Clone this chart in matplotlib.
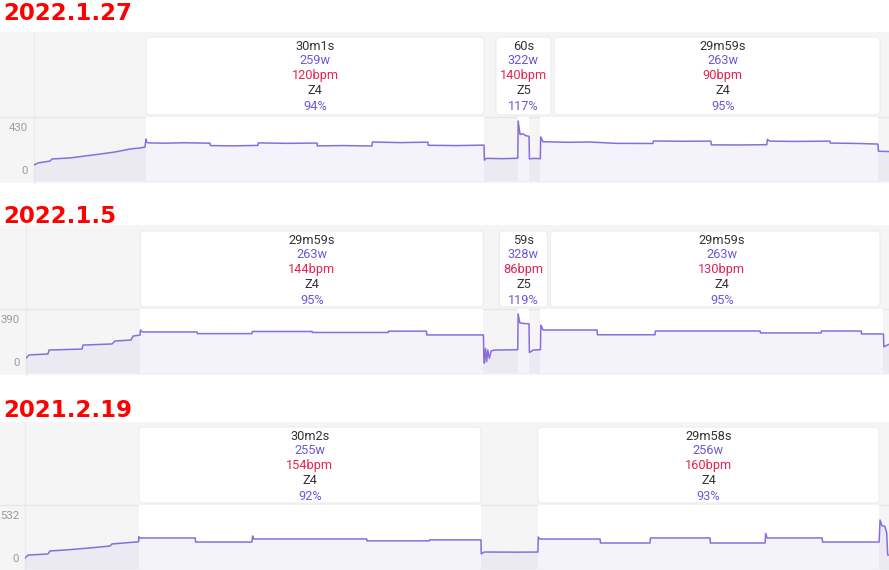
import matplotlib
matplotlib.use("Agg")
import matplotlib.pyplot as plt
from matplotlib.patches import FancyBboxPatch, Rectangle

# ---- data ----
titles = ["2022.1.27", "2022.1.5", "2021.2.19"]
y_max = [430, 390, 532]

# time (s) / power (W) traces
p1_t = [0, 21, 85, 96, 192, 272, 352, 432, 485, 511, 565, 591,
        597, 600, 610, 700, 800, 938, 940, 1050, 1193, 1195, 1350, 1508, 1510, 1650, 1801, 1803, 1950, 2099, 2101, 2250, 2398,
        2400, 2410, 2500, 2578,
        2580, 2590, 2605, 2620, 2638,
        2640, 2660, 2698,
        2700, 2712, 2850, 2962, 3100, 3298, 3300, 3450, 3607, 3609, 3750, 3905, 3908, 3920, 4050, 4241, 4243, 4400, 4497,
        4500, 4556]
p1_w = [107, 121, 134, 148, 155, 168, 181, 195, 208, 215, 222, 228,
        282, 262, 256, 254, 257, 254, 238, 236, 239, 256, 253, 255, 236, 238, 235, 262, 258, 261, 240, 238, 241,
        140, 152, 150, 153,
        403, 312, 318, 305, 300,
        148, 152, 150,
        296, 264, 260, 262, 253, 252, 269, 267, 268, 243, 242, 244, 280, 268, 266, 268, 255, 252, 248,
        200, 198]

p2_t = [0, 16, 115, 121, 294, 299, 451, 467, 551, 561, 598,
        600, 610, 897, 899, 1185, 1187, 1500, 1502, 1900, 1902, 2100, 2102, 2399,
        2401, 2404, 2410, 2416, 2422, 2430, 2440, 2460, 2579,
        2581, 2590, 2610, 2638,
        2640, 2660, 2698,
        2700, 2712, 2995, 2997, 3299, 3301, 3850, 3852, 4170, 4172, 4380, 4382, 4497,
        4499, 4526]
p2_w = [91, 110, 116, 140, 146, 170, 177, 195, 201, 225, 231,
        262, 250, 250, 240, 240, 253, 253, 247, 247, 255, 255, 232, 232,
        95, 60, 150, 70, 140, 90, 135, 140, 142,
        360, 305, 302, 300,
        125, 140, 142,
        292, 262, 262, 233, 233, 256, 256, 244, 244, 256, 256, 238, 238,
        160, 175]

p3_t = [0, 16, 121, 132, 211, 342, 448, 458, 580, 598,
        600, 605, 897, 899, 1196, 1199, 1205, 1800, 1802, 2130, 2132, 2402,
        2404, 2420, 2600, 2702,
        2704, 2712, 3030, 3032, 3293, 3295, 3609, 3611, 3899, 3902, 3910, 4200, 4202, 4500,
        4505, 4515, 4530, 4540, 4545, 4552]
p3_w = [91, 116, 125, 150, 158, 175, 191, 208, 224, 226,
        268, 258, 258, 224, 224, 275, 250, 250, 234, 234, 242, 242,
        125, 141, 140, 141,
        266, 249, 249, 216, 216, 258, 258, 216, 216, 295, 258, 258, 224, 224,
        407, 360, 355, 300, 116, 116]

# interval start / end (s)
p1_iv = [(597, 2398), (2578, 2638), (2698, 4497)]
p2_iv = [(600, 2399), (2579, 2638), (2698, 4497)]
p3_iv = [(600, 2402), (2702, 4500)]

p1_labels = [["30m1s", "259w", "120bpm", "Z4", "94%"],
             ["60s", "322w", "140bpm", "Z5", "117%"],
             ["29m59s", "263w", "90bpm", "Z4", "95%"]]
p2_labels = [["29m59s", "263w", "144bpm", "Z4", "95%"],
             ["59s", "328w", "86bpm", "Z5", "119%"],
             ["29m59s", "263w", "130bpm", "Z4", "95%"]]
p3_labels = [["30m2s", "255w", "154bpm", "Z4", "92%"],
             ["29m58s", "256w", "160bpm", "Z4", "93%"]]

traces = [(p1_t, p1_w), (p2_t, p2_w), (p3_t, p3_w)]
intervals = [p1_iv, p2_iv, p3_iv]
labels = [p1_labels, p2_labels, p3_labels]

# ---- layout (pixels) ----
W_PX, H_PX = 889, 570
# gray_top, box_top, plot_top, plot_bot, gray_bot, axis_x, t_right, title_baseline
layout = [
    (32, 37, 117, 181, 183, 34, 4556, 20),
    (225, 231, 309, 373, 375, 26, 4526, 223),
    (422, 427, 505, 569, 570, 25, 4552, 417),
]

BG = "#f5f5f5"
GRID = "#e6e6e6"
LINE = "#8a6ddc"
TXT_COLORS = ["#333333", "#6a5ad8", "#e62350", "#333333", "#6a5ad8"]
TICK = "#9a9a9a"
FONT = ["Roboto", "DejaVu Sans"]
LAB_SIZE = 9.2

fig = plt.figure(figsize=(W_PX / 100, H_PX / 100), dpi=100)
fig.patch.set_facecolor("white")
ov = fig.add_axes([0, 0, 1, 1])
ov.set_xlim(0, W_PX)
ov.set_ylim(H_PX, 0)
ov.axis("off")
ov.set_zorder(0)

renderer = fig.canvas.get_renderer()

for i in range(3):
    g_top, b_top, p_top, p_bot, g_bot, ax_x, t_right, title_y = layout[i]
    t, w = traces[i]

    # title
    ov.text(3, title_y, titles[i], color="#ff0000", fontsize=16.5, fontweight="bold",
            family="DejaVu Sans", ha="left", va="baseline")

    # gray panel + separators
    ov.add_patch(Rectangle((0, g_top), W_PX, g_bot - g_top, facecolor=BG, edgecolor="none"))
    ov.plot([0, W_PX], [p_top, p_top], color=GRID, lw=1)
    ov.plot([ax_x, ax_x], [g_top, g_bot], color="#ebebeb", lw=1)

    # plot area
    ax = fig.add_axes([ax_x / W_PX, 1 - p_bot / H_PX, (W_PX - ax_x) / W_PX, (p_bot - p_top) / H_PX])
    ax.set_zorder(1)
    ax.patch.set_visible(False)
    ax.set_xlim(0, t_right)
    ax.set_ylim(0, y_max[i])
    ax.axis("off")
    for s, e in intervals[i]:
        ax.axvspan(s, e, color="white", zorder=0, lw=0)
    ax.fill_between(t, w, 0, color="#7b5fd0", alpha=0.08, lw=0, zorder=1)
    ax.plot(t, w, color=LINE, lw=1.1, zorder=2)

    # y tick labels
    ax.annotate(str(y_max[i]), xy=(0, y_max[i]), xycoords=("axes fraction", "data"),
                xytext=(-6, -11), textcoords="offset pixels", ha="right", va="center",
                fontsize=8.2, color=TICK, family=FONT, annotation_clip=False)
    ax.annotate("0", xy=(0, 0), xycoords=("axes fraction", "data"),
                xytext=(-6, 10), textcoords="offset pixels", ha="right", va="center",
                fontsize=8.2, color=TICK, family=FONT, annotation_clip=False)

    # interval label boxes
    prev_right = -1e9
    for (s, e), lab in zip(intervals[i], labels[i]):
        x0 = ax.transData.transform((s, 0))[0]
        x1 = ax.transData.transform((e, 0))[0]
        txts = [ov.text(0, 0, l, fontsize=LAB_SIZE, family=FONT) for l in lab]
        tw = max(tt.get_window_extent(renderer).width for tt in txts)
        for tt in txts:
            tt.remove()
        bw = max(x1 - x0, tw + 8)
        left = (x0 + x1) / 2 - bw / 2
        if left < prev_right + 3:
            left = prev_right + 3
        right = left + bw
        prev_right = right
        vis_right = min(right, 880)
        ov.add_patch(FancyBboxPatch((left, b_top), vis_right - left, p_top - 2 - b_top,
                                    boxstyle="round,pad=0,rounding_size=4",
                                    facecolor="white", edgecolor="#ececec", lw=0.8))
        cx = left + bw / 2
        for k, l in enumerate(lab):
            ov.text(cx, b_top + 9 + 15 * k, l, color=TXT_COLORS[k], fontsize=LAB_SIZE,
                    family=FONT, ha="center", va="center")

fig.savefig("out.png", dpi=100)
